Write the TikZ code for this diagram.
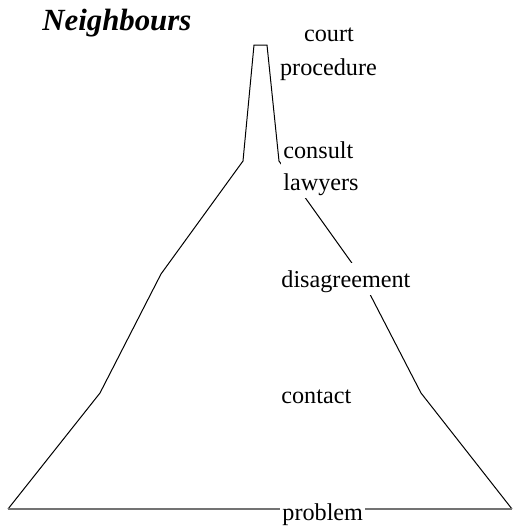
\documentclass[tikz,border=0pt]{standalone}
\usepackage{fontspec}
\setmainfont{Liberation Serif}
\begin{document}
\begin{tikzpicture}[x=0.5pt,y=-0.5pt,
  outline/.style={draw=black,line width=0.5pt,line join=miter},
  baseline line/.style={draw=black!55,line width=1pt},
  stage/.style={fill=white,inner xsep=1pt,inner ysep=1pt,
    text height=11pt,text depth=3pt,
    font=\fontsize{12.1}{14}\selectfont},
  heading/.style={inner sep=0pt,font=\fontsize{15.4}{18}\selectfont\bfseries\itshape}]
\useasboundingbox (0,0) rectangle (513,526);

% outline of the mountain
\coordinate (bl) at (8,509);
\coordinate (l1) at (100,393);
\coordinate (l2) at (161,274);
\coordinate (l3) at (243,161);
\coordinate (tl) at (254,45);
\coordinate (tr) at (267,45);
\coordinate (r3) at (279,161);
\coordinate (r2) at (359,273);
\coordinate (r1) at (421,393);
\coordinate (br) at (512,509);

\draw[outline] (bl) -- (l1) -- (l2) -- (l3) -- (tl) -- (tr) -- (r3) -- (r2) -- (r1) -- (br);
\draw[baseline line] (bl) -- (br);

% title
\node[heading,anchor=base west] (title) at (42,30) {Neighbours};

% stage labels
\node[stage,anchor=base] (court) at (329,41) {court};
\node[stage,anchor=base] (procedure) at (328.5,75) {procedure};
\node[stage,anchor=base west] (consult) at (281,158) {consult};
\node[stage,anchor=base west] (lawyers) at (281,190) {lawyers};
\node[stage,anchor=base west] (disagreement) at (279,287) {disagreement};
\node[stage,anchor=base west] (contact) at (279,403) {contact};
\node[stage,anchor=base west] (problem) at (280,520) {problem};
\end{tikzpicture}
\end{document}
